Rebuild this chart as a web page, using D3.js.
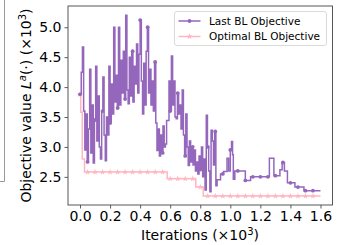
<!DOCTYPE html>
<html>
<head>
<meta charset="utf-8">
<script src="https://cdn.jsdelivr.net/npm/d3@7/dist/d3.min.js"></script>
<style>
  body { margin: 0; background: #fff; }
  text { font-family: "DejaVu Sans", sans-serif; }
</style>
</head>
<body>
<script>
// Objective value vs iterations

//Width and height
var w = 348;
var h = 245;

//Last BL objective: noisy part, one value every noisyStep iterations
var noisyStep = 8;
var noisyVals = [
    3.88, 4.25, 4.67, 3.60, 2.95, 3.55, 2.75, 3.30, 4.30, 2.90,
    3.70, 2.73, 3.45, 4.35, 3.10, 3.85, 3.00, 2.80, 3.60, 4.17,
    3.20, 2.77, 3.50, 3.20, 4.35, 3.40, 4.05, 3.55, 5.00, 3.75,
    4.20, 3.65, 5.00, 3.70, 4.45, 3.90, 4.60, 3.80, 5.20, 3.95,
    3.72, 4.50, 3.85, 4.60, 3.75, 4.35, 4.05, 4.72, 3.90, 4.55,
    5.12, 4.10, 3.55, 4.40, 3.70, 4.60, 5.00, 3.90, 4.30, 3.70,
    4.10, 3.60, 4.42, 3.40, 2.94, 3.30, 2.85, 3.20, 2.90, 3.35,
    3.00, 3.05, 3.44, 3.44, 4.10, 3.60, 4.52, 3.70, 4.10, 3.50,
    3.47, 3.90, 3.55, 3.70, 3.30, 3.95, 3.20, 2.85, 3.55, 3.00,
    2.69, 3.10, 2.75, 3.00, 2.70, 2.95, 2.60, 2.75, 2.55, 2.85,
    2.62, 3.00, 2.50, 2.80, 2.28, 3.53, 3.00, 2.60, 2.25, 3.28,
    3.10, 2.70, 3.26, 2.35, 2.45
];

//Last BL objective: stepped tail
var tailIters = [920, 935, 955, 978, 989, 1000, 1008, 1015, 1020, 1030, 1100, 1135, 1260, 1290, 1330, 1345, 1360, 1380, 1430, 1490, 1600];
var tailVals  = [2.45, 2.55, 2.59, 2.81, 2.60, 2.95, 3.09, 2.87, 2.46, 2.60, 2.44, 2.50, 2.81, 2.52, 2.62, 2.74, 2.60, 2.40, 2.33, 2.27, 2.27];

//Optimal BL objective
var optIters = [0, 5, 15, 30, 580, 770, 820, 1600];
var optVals  = [3.88, 3.58, 2.80, 2.58, 2.47, 2.33, 2.18, 2.18];

//Axis ticks
var xTicks = [0, 200, 400, 600, 800, 1000, 1200, 1400, 1600];
var yTicks = [2.5, 3.0, 3.5, 4.0, 4.5, 5.0];

//Markers every 50 iterations
var markEvery = 50;

var lastPts = noisyVals.map(function (v, i) { return [i * noisyStep, v]; })
    .concat(tailIters.map(function (it, i) { return [it, tailVals[i]]; }));
var optPts = optIters.map(function (it, i) { return [it, optVals[i]]; });

//Scales
var x = d3.scaleLinear().domain([-80, 1680]).range([68, 332.5]);
var y = d3.scaleLinear().domain([2.03, 5.355]).range([205, 6]);

var purple = "#9467bd";
var pink = "#ffb6c1";

//Create SVG element
var svg = d3.select("body")
    .append("svg")
    .attr("width", w)
    .attr("height", h);

//Edge of neighbouring panel
svg.append("path")
    .attr("d", "M4.5,0V181.5H0")
    .attr("fill", "none")
    .attr("stroke", "#999")
    .attr("stroke-width", 1);

var line = d3.line()
    .x(function (d) { return x(d[0]); })
    .y(function (d) { return y(d[1]); })
    .curve(d3.curveStepAfter);

//value of a step series at an iteration
var bis = d3.bisector(function (d) { return d[0]; }).right;
function valueAt(pts, it) {
    var i = bis(pts, it) - 1;
    return pts[Math.max(0, i)][1];
}

var marks = d3.range(0, 1600, markEvery);

//Optimal line
svg.append("path")
    .datum(optPts)
    .attr("d", line)
    .attr("fill", "none")
    .attr("stroke", pink)
    .attr("stroke-width", 1.5);

svg.append("g")
    .selectAll("path")
    .data(marks)
    .enter()
    .append("path")
    .attr("transform", function (d) { return "translate(" + x(d) + "," + y(valueAt(optPts, d)) + ")"; })
    .attr("d", d3.symbol().type(d3.symbolStar).size(12))
    .attr("fill", pink);

//Last line
svg.append("path")
    .datum(lastPts)
    .attr("d", line)
    .attr("fill", "none")
    .attr("stroke", purple)
    .attr("stroke-width", 1.5)
    .attr("stroke-linejoin", "miter");

svg.append("g")
    .selectAll("circle")
    .data(marks)
    .enter()
    .append("circle")
    .attr("cx", function (d) { return x(d); })
    .attr("cy", function (d) { return y(valueAt(lastPts, d)); })
    .attr("r", 1.9)
    .attr("fill", purple);

//Axes
var xAxis = svg.append("g")
    .attr("transform", "translate(0,205)")
    .call(d3.axisBottom(x).tickValues(xTicks).tickSize(3.5).tickPadding(3)
        .tickFormat(function (d) { return d3.format(".1f")(d / 1000); }));

var yAxis = svg.append("g")
    .attr("transform", "translate(68,0)")
    .call(d3.axisLeft(y).tickValues(yTicks).tickSize(3.5).tickPadding(3)
        .tickFormat(d3.format(".1f")));

[xAxis, yAxis].forEach(function (a) {
    a.select(".domain").remove();
    a.selectAll("line").attr("stroke", "#333").attr("stroke-width", 0.8);
    a.selectAll("text")
        .style("font-family", "DejaVu Sans")
        .style("font-size", "14px")
        .attr("fill", "#000");
});

//Frame
svg.append("rect")
    .attr("x", 68)
    .attr("y", 6)
    .attr("width", 332.5 - 68)
    .attr("height", 205 - 6)
    .attr("fill", "none")
    .attr("stroke", "#444")
    .attr("stroke-width", 0.9);

//Axis labels
var xl = svg.append("text")
    .attr("x", 200)
    .attr("y", 240)
    .attr("text-anchor", "middle")
    .style("font-size", "14px");
xl.append("tspan").text("Iterations (\u00d710");
xl.append("tspan").attr("dy", -5).style("font-size", "10px").text("3");
xl.append("tspan").attr("dy", 5).text(")");

var yl = svg.append("text")
    .attr("transform", "translate(31,105.5) rotate(-90)")
    .attr("text-anchor", "middle")
    .style("font-size", "14px");
yl.append("tspan").text("Objective value ");
yl.append("tspan").style("font-style", "italic").text("L");
yl.append("tspan").attr("dy", -5).style("font-size", "10px").style("font-style", "italic").text("a");
yl.append("tspan").attr("dy", 5).text("(\u00b7) (\u00d710");
yl.append("tspan").attr("dy", -5).style("font-size", "10px").text("3");
yl.append("tspan").attr("dy", 5).text(")");

//Legend
var legend = svg.append("g");
legend.append("rect")
    .attr("x", 174.5)
    .attr("y", 11.5)
    .attr("width", 152)
    .attr("height", 34)
    .attr("rx", 2.5)
    .attr("fill", "#fff")
    .attr("fill-opacity", 0.85)
    .attr("stroke", "#d0d0d0")
    .attr("stroke-width", 0.8);

var items = [
    { label: "Last BL Objective", color: purple, sym: "dot" },
    { label: "Optimal BL Objective", color: pink, sym: "star" }
];

items.forEach(function (it, i) {
    var ly = 21 + i * 15.5;
    legend.append("line")
        .attr("x1", 178.5).attr("x2", 200.5)
        .attr("y1", ly).attr("y2", ly)
        .attr("stroke", it.color)
        .attr("stroke-width", 1.5);
    if (it.sym == "dot") {
        legend.append("circle")
            .attr("cx", 189.5).attr("cy", ly).attr("r", 1.9)
            .attr("fill", it.color);
    } else {
        legend.append("path")
            .attr("transform", "translate(189.5," + ly + ")")
            .attr("d", d3.symbol().type(d3.symbolStar).size(12))
            .attr("fill", it.color);
    }
    legend.append("text")
        .attr("x", 209)
        .attr("y", ly + 3.8)
        .style("font-size", "10.5px")
        .text(it.label);
});
</script>
</body>
</html>
